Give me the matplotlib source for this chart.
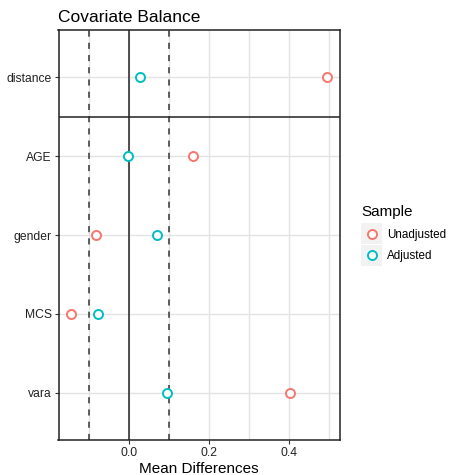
import matplotlib
matplotlib.use("Agg")
import matplotlib.pyplot as plt
from matplotlib.legend_handler import HandlerBase
from matplotlib.patches import Rectangle
from matplotlib.lines import Line2D

plt.rcParams['font.family'] = ['Liberation Sans', 'DejaVu Sans']

covariates = ["vara", "MCS", "gender", "AGE", "distance"]
unadjusted = [0.403, -0.145, -0.083, 0.16, 0.495]
adjusted = [0.095, -0.078, 0.07, -0.003, 0.0275]
xticks = [0.0, 0.2, 0.4]
xtick_labels = ["0.0", "0.2", "0.4"]
minor_ticks = [-0.1, 0.1, 0.3, 0.5]
threshold = 0.1

red = "#F8766D"
cyan = "#00BFC4"


class KeyHandler(HandlerBase):
    # grey key square with a hollow circle, like ggplot legend keys
    def create_artists(self, legend, orig_handle, xdescent, ydescent,
                       width, height, fontsize, trans):
        size = 15.2
        cx = width / 2 - xdescent
        cy = height / 2 - ydescent
        bg = Rectangle((cx - size / 2, cy - size / 2), size, size,
                       facecolor="#F2F2F2", edgecolor="none", transform=trans)
        mk = Line2D([cx], [cy], marker="o", markersize=6.5, markerfacecolor="white",
                    markeredgecolor=orig_handle.get_markeredgecolor(),
                    markeredgewidth=1.4, linestyle="none", transform=trans)
        return [bg, mk]


def main():
    fig = plt.figure(figsize=(4.5, 4.75), dpi=100)
    ax = fig.add_axes([0.13, 0.0737, 0.6256, 0.8631])

    ypos = list(range(1, len(covariates) + 1))

    ax.set_xlim(-0.176, 0.528)
    ax.set_ylim(0.4, 5.6)

    # grid
    for x in xticks + minor_ticks:
        ax.axvline(x, color="#E3E3E3", lw=1, zorder=0)
    for y in ypos:
        ax.axhline(y, color="#E3E3E3", lw=1, zorder=0)

    ax.axvline(0, color="#222222", lw=1.1, zorder=1)
    ax.axvline(-threshold, color="#333333", lw=1.1, ls=(0, (4, 4)), zorder=1)
    ax.axvline(threshold, color="#333333", lw=1.1, ls=(0, (4, 4)), zorder=1)
    ax.axhline(4.5, color="#222222", lw=1.1, zorder=1)

    ax.plot(unadjusted, ypos, "o", ms=6.5, mfc="white", mec=red, mew=1.4,
            ls="none", zorder=3, label="Unadjusted")
    ax.plot(adjusted, ypos, "o", ms=6.5, mfc="white", mec=cyan, mew=1.4,
            ls="none", zorder=3, label="Adjusted")

    ax.set_xticks(xticks)
    ax.set_xticklabels(xtick_labels)
    ax.set_yticks(ypos)
    ax.set_yticklabels(covariates)
    ax.tick_params(axis="both", length=3, width=0.8, color="#333333",
                   labelsize=8.7, labelcolor="#222222", pad=2)

    for s in ax.spines.values():
        s.set_color("#222222")
        s.set_linewidth(1.1)

    ax.set_xlabel("Mean Differences", fontsize=11, labelpad=2)
    ax.set_title("Covariate Balance", fontsize=12.5, loc="left", pad=6, x=-0.003)

    handles, labels = ax.get_legend_handles_labels()
    fig.legend(handles, labels, title="Sample", loc="center left",
               bbox_to_anchor=(0.792, 0.508), frameon=False, fontsize=8.4,
               title_fontsize=11, handler_map={Line2D: KeyHandler()},
               handlelength=1.85, handleheight=1.4, labelspacing=0.68,
               handletextpad=0.35, borderaxespad=0)
    fig.legends[0]._legend_box.align = "left"

    fig.savefig("out.png", dpi=100)


if __name__ == '__main__':
    main()
